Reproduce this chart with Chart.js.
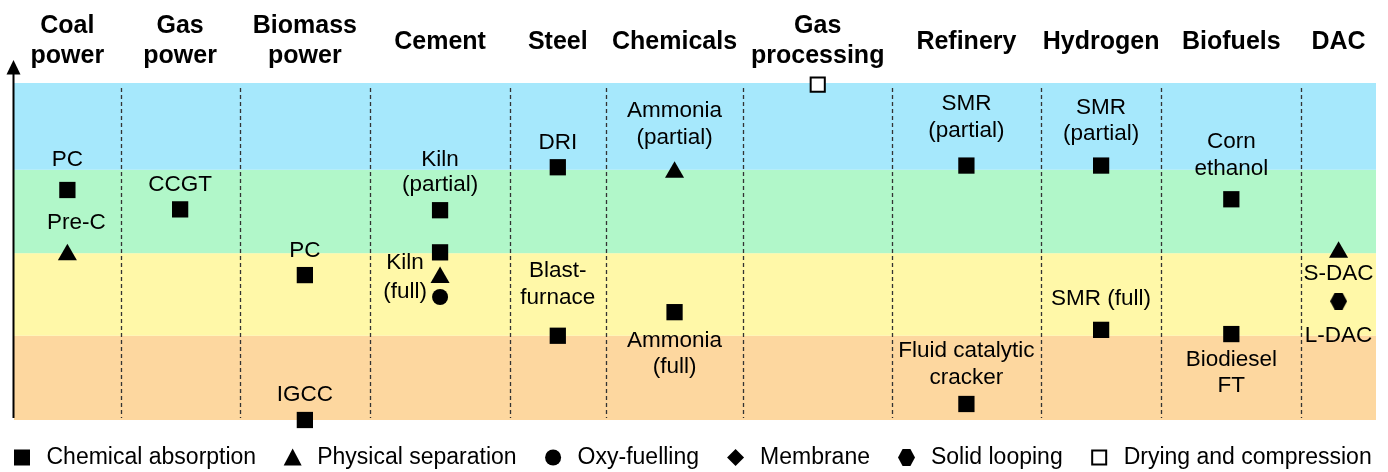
<!DOCTYPE html>
<html><head><meta charset="utf-8">
<script src="https://cdn.jsdelivr.net/npm/chart.js@4/dist/chart.umd.min.js"></script>
<style>html,body{margin:0;padding:0;background:#fff}</style>
</head><body>
<canvas id="c" width="1388" height="472"></canvas>
<script>
// ---------------- DATA ----------------
const categories = [["Coal","power"],["Gas","power"],["Biomass","power"],["Cement"],["Steel"],["Chemicals"],["Gas","processing"],["Refinery"],["Hydrogen"],["Biofuels"],["DAC"]];
const bandLimits = [0, 1.0, 1.98, 2.97, 4.0];
const seriesNames = ["Chemical absorption","Physical separation","Oxy-fuelling","Membrane","Solid looping","Drying and compression"];

const chemAbsCategory = [0,1,2,2,3,3,4,4,5,7,7,8,8,9,9];
const chemAbsValue    = [2.73,2.5,1.72,0,2.49,1.99,3.0,1.0,1.28,3.02,0.19,3.02,1.07,2.62,1.02];
const chemAbsLabel    = [["PC"],["CCGT"],["PC"],["IGCC"],["Kiln","(partial)"],[],["DRI"],["Blast-","furnace"],["Ammonia","(full)"],["SMR","(partial)"],["Fluid catalytic","cracker"],["SMR","(partial)"],["SMR (full)"],["Corn","ethanol"],["Biodiesel","FT"]];

const physSepCategory = [0,3,5,10];
const physSepValue    = [1.96,1.69,2.94,1.99];
const physSepLabel    = [["Pre-C"],["Kiln","(full)"],["Ammonia","(partial)"],["S-DAC"]];

const oxyCategory = [3];
const oxyValue    = [1.46];
const oxyLabel    = [[]];

const membraneCategory = [];
const membraneValue    = [];

const solidLoopCategory = [10];
const solidLoopValue    = [1.41];
const solidLoopLabel    = [["L-DAC"]];

const dryingCategory = [6];
const dryingValue    = [3.98];
const dryingLabel    = [[]];

// ---------------- LAYOUT / STYLE ----------------
const columnWidths = [107,119,131,140,96,138,149,149,121,140,75];
const colStart = []; let accW = 0;
columnWidths.forEach(w => { colStart.push(accW); accW += w; });
const totalWidth = accW;
const colCenter = i => colStart[i] + columnWidths[i] / 2;

// label offsets relative to marker [dx, dy of first line, line height]
const chemAbsOffsets = [[0,-30],[0,-24.5],[0,-24],[0,-25],[0,-50,25],[0,0],[0,-24],[0,-65],[0,28.5,26],[0,-62],[0,-53],[0,-58,26],[0,-31],[0,-57],[0,26,26]];
const physSepOffsets = [[9,-32.5],[-35,-14.5,29],[0,-61.5],[0,21.5]];
const oxyOffsets = [[0,0]];
const solidLoopOffsets = [[0,35]];
const dryingOffsets = [[0,0]];

const bandColors = ["#FDD79F","#FFF8A8","#B1F7C9","#A6E8FC"];
const FONT = '"Liberation Sans", Arial, Helvetica, sans-serif';

// hexagon point style
function makeHex(w, h){
  const c = document.createElement('canvas');
  c.width = w; c.height = h;
  const g = c.getContext('2d');
  g.fillStyle = '#000';
  g.beginPath();
  g.moveTo(0, h/2); g.lineTo(w*0.27, 0); g.lineTo(w*0.73, 0);
  g.lineTo(w, h/2); g.lineTo(w*0.73, h); g.lineTo(w*0.27, h);
  g.closePath(); g.fill();
  return c;
}
const hexImg = makeHex(17, 17);

function pts(cats, vals){ return cats.map((c, i) => ({x: colCenter(c), y: vals[i]})); }

const common = {showLine:false, clip:false, borderColor:'#000', backgroundColor:'#000', borderWidth:0};

const datasets = [
  Object.assign({}, common, {label: seriesNames[0], data: pts(chemAbsCategory, chemAbsValue), pointStyle:'rect', pointRadius:11.5, pointHoverRadius:11.5, ptLabels: chemAbsLabel, ptOffsets: chemAbsOffsets}),
  Object.assign({}, common, {label: seriesNames[1], data: pts(physSepCategory, physSepValue), pointStyle:'triangle', pointRadius:11, pointHoverRadius:11, ptLabels: physSepLabel, ptOffsets: physSepOffsets}),
  Object.assign({}, common, {label: seriesNames[2], data: pts(oxyCategory, oxyValue), pointStyle:'circle', pointRadius:8, pointHoverRadius:8, ptLabels: oxyLabel, ptOffsets: oxyOffsets}),
  Object.assign({}, common, {label: seriesNames[3], data: pts(membraneCategory, membraneValue), pointStyle:'rectRot', pointRadius:9, ptLabels: [], ptOffsets: []}),
  Object.assign({}, common, {label: seriesNames[4], data: pts(solidLoopCategory, solidLoopValue), pointStyle: hexImg, pointRadius:9, ptLabels: solidLoopLabel, ptOffsets: solidLoopOffsets}),
  Object.assign({}, common, {label: seriesNames[5], data: pts(dryingCategory, dryingValue), pointStyle:'rect', pointRadius:10, pointHoverRadius:10, backgroundColor:'#fff', borderWidth:2, ptLabels: dryingLabel, ptOffsets: dryingOffsets})
];

const decor = {
  id: 'decor',
  beforeDatasetsDraw(chart){
    const {ctx, chartArea: a, scales: {x, y}} = chart;
    ctx.save();
    // bands
    for (let i = 0; i < bandLimits.length - 1; i++){
      const y0 = y.getPixelForValue(bandLimits[i]), y1 = y.getPixelForValue(bandLimits[i+1]);
      ctx.fillStyle = bandColors[i];
      ctx.fillRect(a.left, y1, a.right - a.left, y0 - y1);
    }
    // dashed separators
    ctx.strokeStyle = '#333'; ctx.lineWidth = 1.3; ctx.setLineDash([4,3]);
    for (let i = 1; i < colStart.length; i++){
      const px = Math.round(x.getPixelForValue(colStart[i])) + 0.5;
      ctx.beginPath(); ctx.moveTo(px, a.top + 5); ctx.lineTo(px, a.bottom - 2); ctx.stroke();
    }
    ctx.setLineDash([]);
    // y axis with arrow
    const ax = a.left - 0.5;
    ctx.strokeStyle = '#000'; ctx.lineWidth = 2;
    ctx.beginPath(); ctx.moveTo(ax, a.bottom - 2); ctx.lineTo(ax, a.top - 9); ctx.stroke();
    ctx.fillStyle = '#000';
    ctx.beginPath(); ctx.moveTo(ax, a.top - 23); ctx.lineTo(ax - 7, a.top - 8.5); ctx.lineTo(ax + 7, a.top - 8.5); ctx.closePath(); ctx.fill();
    // headers
    ctx.font = 'bold 25px ' + FONT; ctx.textAlign = 'center'; ctx.textBaseline = 'alphabetic';
    categories.forEach((lines, i) => {
      const px = x.getPixelForValue(colCenter(i));
      if (lines.length === 1) ctx.fillText(lines[0], px, 48.5);
      else { ctx.fillText(lines[0], px, 33); ctx.fillText(lines[1], px, 63); }
    });
    ctx.restore();
  },
  afterDatasetsDraw(chart){
    const {ctx} = chart;
    ctx.save();
    ctx.fillStyle = '#000';
    ctx.font = '22.5px ' + FONT; ctx.textAlign = 'center'; ctx.textBaseline = 'middle';
    chart.data.datasets.forEach((ds, di) => {
      const meta = chart.getDatasetMeta(di);
      meta.data.forEach((el, i) => {
        const lines = ds.ptLabels[i] || [];
        const off = ds.ptOffsets[i] || [0,0];
        const lh = off[2] || 27;
        lines.forEach((t, k) => ctx.fillText(t, el.x + off[0], el.y + off[1] + k * lh));
      });
    });
    // legend
    const cy = 457.5;
    let lx = 14;
    ctx.textAlign = 'left';
    ctx.font = '23px ' + FONT;
    const shapes = ['square','triangle','circle','diamond','hex','hollow'];
    seriesNames.forEach((name, k) => {
      const cx = lx + 8;
      ctx.fillStyle = '#000'; ctx.strokeStyle = '#000';
      ctx.beginPath();
      switch (shapes[k]){
        case 'square': ctx.fillRect(cx - 8, cy - 8, 16, 16); break;
        case 'triangle': ctx.moveTo(cx, cy - 9); ctx.lineTo(cx + 9, cy + 8); ctx.lineTo(cx - 9, cy + 8); ctx.closePath(); ctx.fill(); break;
        case 'circle': ctx.arc(cx, cy, 8, 0, Math.PI * 2); ctx.fill(); break;
        case 'diamond': ctx.moveTo(cx, cy - 8.5); ctx.lineTo(cx + 8.5, cy); ctx.lineTo(cx, cy + 8.5); ctx.lineTo(cx - 8.5, cy); ctx.closePath(); ctx.fill(); break;
        case 'hex': ctx.drawImage(hexImg, cx - 8.5, cy - 8.5); break;
        case 'hollow': ctx.fillStyle = '#fff'; ctx.fillRect(cx - 7, cy - 7, 14, 14); ctx.lineWidth = 2; ctx.strokeRect(cx - 7, cy - 7, 14, 14); ctx.fillStyle = '#000'; break;
      }
      lx += 16 + 16.5;
      ctx.fillStyle = '#000';
      ctx.fillText(name, lx, cy);
      lx += ctx.measureText(name).width + 28.5;
    });
    ctx.restore();
  }
};

new Chart(document.getElementById('c'), {
  type: 'scatter',
  data: {datasets},
  options: {
    responsive: false, animation: false, devicePixelRatio: 1, events: [],
    layout: {padding: {left: 14, right: 9, top: 83, bottom: 52}},
    scales: {
      x: {type: 'linear', min: 0, max: totalWidth, display: false},
      y: {type: 'linear', min: bandLimits[0], max: bandLimits[bandLimits.length - 1], display: false}
    },
    plugins: {legend: {display: false}, tooltip: {enabled: false}}
  },
  plugins: [decor]
});
</script>
</body></html>
